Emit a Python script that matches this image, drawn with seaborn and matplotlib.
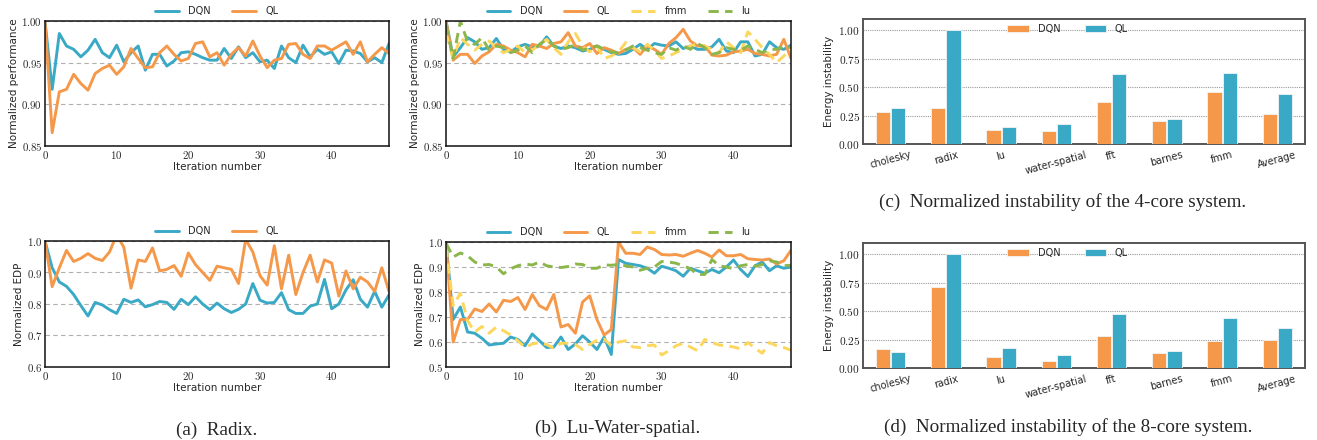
import matplotlib
matplotlib.use('Agg')
import matplotlib.pyplot as plt
from matplotlib.ticker import FuncFormatter, MultipleLocator
import seaborn as sns
import pandas as pd

# iterations on the x axis of the line panels
ITERATIONS = list(range(49))

# (a) Radix, normalized performance
RADIX_PERF_DQN = [1.00, 0.918, 0.985, 0.970, 0.966, 0.957, 0.965, 0.978, 0.962, 0.956,
                  0.971, 0.951, 0.962, 0.970, 0.941, 0.960, 0.960, 0.946, 0.952, 0.962,
                  0.963, 0.960, 0.956, 0.953, 0.953, 0.967, 0.955, 0.969, 0.956, 0.962,
                  0.951, 0.953, 0.943, 0.970, 0.956, 0.950, 0.971, 0.957, 0.966, 0.960,
                  0.963, 0.949, 0.965, 0.964, 0.961, 0.951, 0.956, 0.950, 0.973]
RADIX_PERF_QL = [1.00, 0.866, 0.915, 0.918, 0.936, 0.925, 0.917, 0.937, 0.943, 0.947,
                 0.936, 0.945, 0.967, 0.955, 0.944, 0.945, 0.962, 0.970, 0.960, 0.952,
                 0.955, 0.973, 0.975, 0.957, 0.962, 0.947, 0.960, 0.968, 0.958, 0.976,
                 0.958, 0.944, 0.953, 0.955, 0.972, 0.973, 0.960, 0.955, 0.970, 0.970,
                 0.965, 0.970, 0.975, 0.960, 0.975, 0.951, 0.960, 0.968, 0.961]

# (a) Radix, normalized EDP
RADIX_EDP_DQN = [1.00, 0.915, 0.870, 0.856, 0.830, 0.795, 0.762, 0.805, 0.797, 0.782,
                 0.770, 0.815, 0.805, 0.813, 0.791, 0.798, 0.808, 0.805, 0.783, 0.815,
                 0.798, 0.823, 0.800, 0.782, 0.803, 0.785, 0.773, 0.783, 0.800, 0.865,
                 0.812, 0.803, 0.805, 0.836, 0.782, 0.770, 0.770, 0.793, 0.800, 0.878,
                 0.785, 0.800, 0.845, 0.877, 0.815, 0.790, 0.840, 0.790, 0.829]
RADIX_EDP_QL = [1.00, 0.855, 0.915, 0.970, 0.935, 0.945, 0.960, 0.945, 0.938, 0.965,
                1.020, 0.980, 0.850, 0.940, 0.935, 0.978, 0.905, 0.910, 0.922, 0.888,
                0.962, 0.925, 0.900, 0.875, 0.920, 0.915, 0.910, 0.865, 1.005, 0.965,
                0.890, 0.860, 0.985, 0.848, 0.955, 0.830, 0.900, 0.955, 0.870, 0.940,
                0.930, 0.825, 0.905, 0.848, 0.885, 0.870, 0.840, 0.915, 0.840]

# (b) Lu-Water-spatial, normalized performance
LWS_PERF_DQN = [1.00, 0.957, 0.968, 0.980, 0.975, 0.966, 0.968, 0.979, 0.966, 0.963,
                0.969, 0.972, 0.969, 0.970, 0.981, 0.970, 0.967, 0.970, 0.968, 0.964,
                0.966, 0.970, 0.966, 0.962, 0.960, 0.961, 0.966, 0.972, 0.966, 0.973,
                0.971, 0.970, 0.975, 0.967, 0.970, 0.966, 0.966, 0.969, 0.978, 0.964,
                0.962, 0.975, 0.975, 0.958, 0.960, 0.975, 0.968, 0.966, 0.971]
LWS_PERF_QL = [1.00, 0.953, 0.960, 0.960, 0.949, 0.958, 0.963, 0.972, 0.970, 0.965,
               0.962, 0.957, 0.972, 0.970, 0.967, 0.973, 0.975, 0.986, 0.970, 0.968,
               0.973, 0.961, 0.968, 0.965, 0.961, 0.966, 0.968, 0.960, 0.970, 0.966,
               0.960, 0.973, 0.980, 0.990, 0.976, 0.970, 0.970, 0.959, 0.958, 0.959,
               0.963, 0.964, 0.966, 0.961, 0.960, 0.958, 0.960, 0.978, 0.955]
LWS_PERF_FMM = [0.985, 0.955, 0.980, 0.972, 0.965, 0.972, 0.976, 0.968, 0.962, 0.966,
                0.970, 0.962, 0.965, 0.972, 0.978, 0.968, 0.960, 0.975, 0.985, 0.970,
                0.963, 0.970, 0.955, 0.958, 0.963, 0.974, 0.968, 0.963, 0.972, 0.965,
                0.955, 0.958, 0.962, 0.966, 0.970, 0.972, 0.970, 0.966, 0.962, 0.975,
                0.968, 0.962, 0.987, 0.978, 0.968, 0.960, 0.950, 0.958, 0.965]
LWS_PERF_LU = [0.995, 0.955, 1.000, 0.975, 0.972, 0.980, 0.965, 0.970, 0.968, 0.962,
               0.965, 0.970, 0.962, 0.972, 0.978, 0.970, 0.966, 0.968, 0.972, 0.965,
               0.968, 0.970, 0.966, 0.963, 0.962, 0.965, 0.970, 0.968, 0.965, 0.962,
               0.960, 0.968, 0.965, 0.970, 0.966, 0.973, 0.968, 0.960, 0.962, 0.968,
               0.966, 0.965, 0.970, 0.966, 0.962, 0.966, 0.966, 0.970, 0.968]

# (b) Lu-Water-spatial, normalized EDP
LWS_EDP_DQN = [1.00, 0.690, 0.740, 0.640, 0.635, 0.615, 0.588, 0.592, 0.595, 0.620,
               0.610, 0.585, 0.632, 0.605, 0.578, 0.580, 0.620, 0.570, 0.592, 0.625,
               0.600, 0.570, 0.620, 0.550, 0.930, 0.915, 0.910, 0.905, 0.895, 0.875,
               0.903, 0.895, 0.885, 0.863, 0.895, 0.885, 0.875, 0.890, 0.877, 0.900,
               0.928, 0.890, 0.862, 0.905, 0.920, 0.885, 0.905, 0.895, 0.900]
LWS_EDP_QL = [1.00, 0.600, 0.690, 0.690, 0.732, 0.722, 0.752, 0.720, 0.767, 0.762,
              0.778, 0.730, 0.790, 0.745, 0.730, 0.790, 0.660, 0.670, 0.635, 0.760,
              0.785, 0.690, 0.628, 0.650, 1.000, 0.955, 0.955, 0.950, 0.980, 0.970,
              0.950, 0.948, 0.950, 0.943, 0.955, 0.966, 0.955, 0.940, 0.968, 0.945,
              0.945, 0.950, 0.933, 0.930, 0.928, 0.932, 0.912, 0.925, 0.967]
LWS_EDP_FMM = [0.980, 0.745, 0.795, 0.685, 0.640, 0.662, 0.635, 0.660, 0.645, 0.628,
               0.605, 0.578, 0.592, 0.598, 0.590, 0.575, 0.595, 0.595, 0.590, 0.570,
               0.590, 0.607, 0.612, 0.585, 0.600, 0.605, 0.580, 0.578, 0.585, 0.588,
               0.548, 0.565, 0.585, 0.595, 0.580, 0.565, 0.610, 0.598, 0.588, 0.585,
               0.580, 0.573, 0.598, 0.575, 0.555, 0.598, 0.585, 0.578, 0.567]
LWS_EDP_LU = [0.995, 0.940, 0.956, 0.945, 0.920, 0.908, 0.910, 0.900, 0.873, 0.893,
              0.905, 0.912, 0.908, 0.920, 0.905, 0.900, 0.898, 0.902, 0.912, 0.910,
              0.895, 0.895, 0.908, 0.907, 0.910, 0.905, 0.900, 0.887, 0.895, 0.900,
              0.922, 0.920, 0.915, 0.905, 0.893, 0.870, 0.870, 0.930, 0.905, 0.900,
              0.893, 0.905, 0.910, 0.903, 0.910, 0.925, 0.920, 0.905, 0.907]

# (c), (d) energy instability
BENCHMARKS = ['cholesky', 'radix', 'lu', 'water-spatial', 'fft', 'barnes', 'fmm', 'Average']
INSTAB4_DQN = [0.279, 0.315, 0.124, 0.115, 0.371, 0.203, 0.456, 0.265]
INSTAB4_QL = [0.315, 1.000, 0.153, 0.174, 0.615, 0.221, 0.621, 0.441]
INSTAB8_DQN = [0.167, 0.713, 0.100, 0.062, 0.284, 0.129, 0.238, 0.243]
INSTAB8_QL = [0.141, 1.000, 0.176, 0.114, 0.472, 0.147, 0.437, 0.355]

BLUE = '#3aa9c6'
ORANGE = '#f5984a'
YELLOW = '#fdd65c'
GREEN = '#8cb64a'

sns.set_theme(style='white')
plt.rcParams['font.family'] = ['DejaVu Sans']
plt.rcParams['mathtext.fontset'] = 'cm'

W, H = 1317, 440
fig = plt.figure(figsize=(W / 100, H / 100), dpi=100)


def box(x0, y0, x1, y1):
    return [x0 / W, 1 - y1 / H, (x1 - x0) / W, (y1 - y0) / H]


def line_panel(ax, series, ylim, ystep, yfmt, ylabel):
    rows = []
    for name, vals in series.items():
        for it, v in zip(ITERATIONS, vals):
            rows.append((name, it, v))
    df = pd.DataFrame(rows, columns=['algo', 'it', 'val'])
    names = list(series.keys())
    palette = {'DQN': BLUE, 'QL': ORANGE, 'fmm': YELLOW, 'lu': GREEN}
    dashes = {'DQN': '', 'QL': '', 'fmm': (3.5, 2.2), 'lu': (3.5, 2.2)}
    sns.lineplot(data=df, x='it', y='val', hue='algo', style='algo',
                 hue_order=names, style_order=names,
                 palette={n: palette[n] for n in names},
                 dashes={n: dashes[n] for n in names},
                 linewidth=2.1, ax=ax, legend=False)
    ax.set_xlim(0, 48)
    ax.set_ylim(*ylim)
    ax.yaxis.set_major_locator(MultipleLocator(ystep))
    ax.xaxis.set_major_locator(MultipleLocator(10))
    ax.yaxis.set_major_formatter(FuncFormatter(lambda v, p: '$' + format(v, yfmt) + '$'))
    ax.xaxis.set_major_formatter(FuncFormatter(lambda v, p: '$%d$' % v))
    ax.yaxis.grid(True, linestyle=(0, (4, 3)), color='#b0b0b0', linewidth=0.8)
    ax.tick_params(labelsize=7.8, length=0, pad=2)
    ax.set_xlabel('Iteration number', fontsize=7.5, labelpad=1)
    ax.set_ylabel(ylabel, fontsize=7.5, labelpad=2)
    for sp in ax.spines.values():
        sp.set_color('#111111')
        sp.set_linewidth(1.1)
    handles = ax.get_lines()[:len(names)]
    ax.legend(handles, names, loc='lower center', bbox_to_anchor=(0.5, 1.0),
              ncol=len(names), frameon=False, fontsize=7, handlelength=2.4,
              handletextpad=1.0, columnspacing=2.2, borderaxespad=0.1)


def bar_panel(ax, dqn, ql):
    df = pd.DataFrame({'bench': BENCHMARKS * 2,
                       'algo': ['DQN'] * len(BENCHMARKS) + ['QL'] * len(BENCHMARKS),
                       'val': dqn + ql})
    sns.barplot(data=df, x='bench', y='val', hue='algo',
                palette={'DQN': ORANGE, 'QL': BLUE}, saturation=1,
                width=0.56, gap=0.08, edgecolor='#f4f4f4', linewidth=0.6,
                ax=ax, zorder=3)
    ax.set_xlim(-0.5, 7.5)
    ax.set_ylim(0, 1.1)
    ax.yaxis.set_major_locator(MultipleLocator(0.25))
    ax.yaxis.set_major_formatter(FuncFormatter(lambda v, p: '$%.2f$' % v))
    ax.set_axisbelow(True)
    ax.yaxis.grid(True, linestyle=(0, (1, 1)), color='#9a9a9a', linewidth=0.8)
    ax.tick_params(axis='y', labelsize=8.2, length=0, pad=2)
    ax.tick_params(axis='x', labelsize=7, length=2, width=0.8, color='#444444', pad=2)
    for lab in ax.get_xticklabels():
        lab.set_rotation(15)
    ax.set_xlabel('')
    ax.set_ylabel('Energy instability', fontsize=7.5, labelpad=3)
    for sp in ax.spines.values():
        sp.set_color('#555555')
        sp.set_linewidth(1.4)
    ax.legend(loc='upper center', bbox_to_anchor=(0.463, 1.03), ncol=2,
              frameon=False, fontsize=7, handlelength=2.2, handleheight=0.75,
              handletextpad=0.9, columnspacing=2.5)


ax = fig.add_axes(box(45, 21, 389, 146))
line_panel(ax, {'DQN': RADIX_PERF_DQN, 'QL': RADIX_PERF_QL},
           (0.85, 1.0), 0.05, '.2f', 'Normalized performance')
ax = fig.add_axes(box(45, 241, 389, 367))
line_panel(ax, {'DQN': RADIX_EDP_DQN, 'QL': RADIX_EDP_QL},
           (0.6, 1.0), 0.1, '.1f', 'Normalized EDP')
ax = fig.add_axes(box(446, 21, 791, 146))
line_panel(ax, {'DQN': LWS_PERF_DQN, 'QL': LWS_PERF_QL, 'fmm': LWS_PERF_FMM, 'lu': LWS_PERF_LU},
           (0.85, 1.0), 0.05, '.2f', 'Normalized performance')
ax = fig.add_axes(box(446, 242, 791, 367))
line_panel(ax, {'DQN': LWS_EDP_DQN, 'QL': LWS_EDP_QL, 'fmm': LWS_EDP_FMM, 'lu': LWS_EDP_LU},
           (0.5, 1.0), 0.1, '.1f', 'Normalized EDP')
ax = fig.add_axes(box(863, 19, 1305, 144))
bar_panel(ax, INSTAB4_DQN, INSTAB4_QL)
ax = fig.add_axes(box(863, 243, 1305, 368))
bar_panel(ax, INSTAB8_DQN, INSTAB8_QL)

cap = dict(family='Liberation Serif', fontsize=13.8, ha='center', va='center')
fig.text(217 / W, 1 - 430 / H, '(a)  Radix.', **cap)
fig.text(618 / W, 1 - 428 / H, '(b)  Lu-Water-spatial.', **cap)
fig.text(1063 / W, 1 - 202 / H, '(c)  Normalized instability of the 4-core system.', **cap)
fig.text(1068 / W, 1 - 427 / H, '(d)  Normalized instability of the 8-core system.', **cap)

fig.savefig('out.png', dpi=100)
